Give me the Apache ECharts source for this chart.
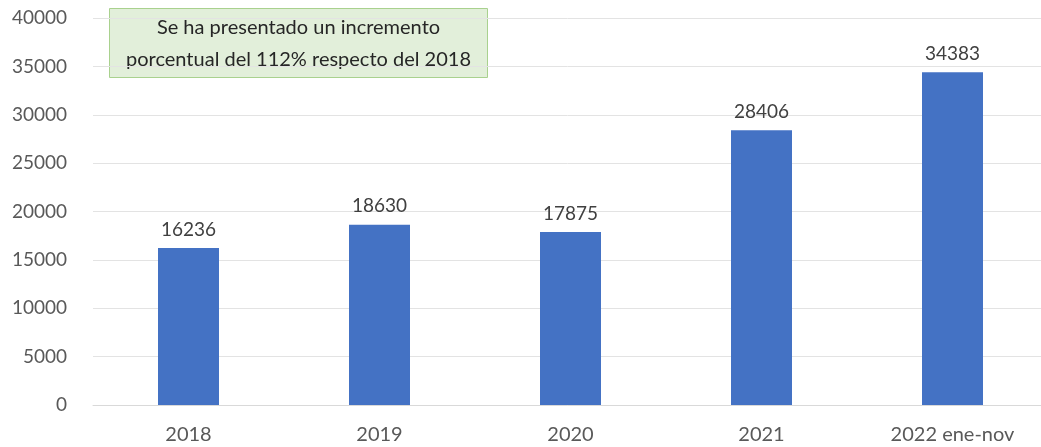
<!DOCTYPE html>
<html>
<head>
<meta charset="utf-8">
<script src="https://cdn.jsdelivr.net/npm/echarts@6/dist/echarts.min.js"></script>
<style>
  html, body { margin: 0; padding: 0; background: #fff; }
  #chart { width: 1041px; height: 447px; }
</style>
</head>
<body>
<div id="chart"></div>
<script>
// datos
var years = ['2018', '2019', '2020', '2021', '2022 ene-nov'];
var totals = [16236, 18630, 17875, 28406, 34383];
var yTicks = { min: 0, max: 40000, step: 5000 };
var note = ['Se ha presentado un incremento', 'porcentual del 112% respecto del 2018'];

var chart = echarts.init(document.getElementById('chart'));
var font = 'Lato, "Open Sans", sans-serif';

var option = {
  animation: false,
  grid: { left: 93, width: 955, top: 18, bottom: 42, outerBoundsMode: 'none' },
  xAxis: {
    type: 'category',
    data: years,
    axisLine: { show: true, lineStyle: { color: '#d9d9d9' } },
    axisTick: { show: false },
    axisLabel: { color: '#595959', fontSize: 20, fontFamily: font, margin: 20 }
  },
  yAxis: {
    type: 'value',
    min: yTicks.min,
    max: yTicks.max,
    interval: yTicks.step,
    axisLine: { show: false },
    axisTick: { show: false },
    splitLine: { lineStyle: { color: '#e3e3e3' } },
    axisLabel: {
      color: '#595959', fontSize: 19, fontFamily: font, margin: 26,
      formatter: function (v) { return String(v); }
    }
  },
  series: [{
    type: 'bar',
    data: totals,
    barWidth: 61,
    itemStyle: { color: '#4472C4' },
    label: {
      show: true,
      position: 'top',
      distance: 9,
      color: '#404040',
      fontSize: 19,
      fontFamily: font
    }
  }],
  graphic: [{
    type: 'group',
    left: 109,
    top: 8,
    children: [{
      type: 'rect',
      shape: { x: 0, y: 0, width: 378, height: 69 },
      style: { fill: '#E2EFDA', stroke: '#A9D18E', lineWidth: 1 }
    }, {
      type: 'text',
      x: 189,
      y: 35,
      style: {
        text: note.join('\n'),
        align: 'center',
        verticalAlign: 'middle',
        fill: '#262626',
        fontSize: 20,
        lineHeight: 32,
        fontFamily: font
      }
    }]
  }]
};

chart.setOption(option);
</script>
</body>
</html>
